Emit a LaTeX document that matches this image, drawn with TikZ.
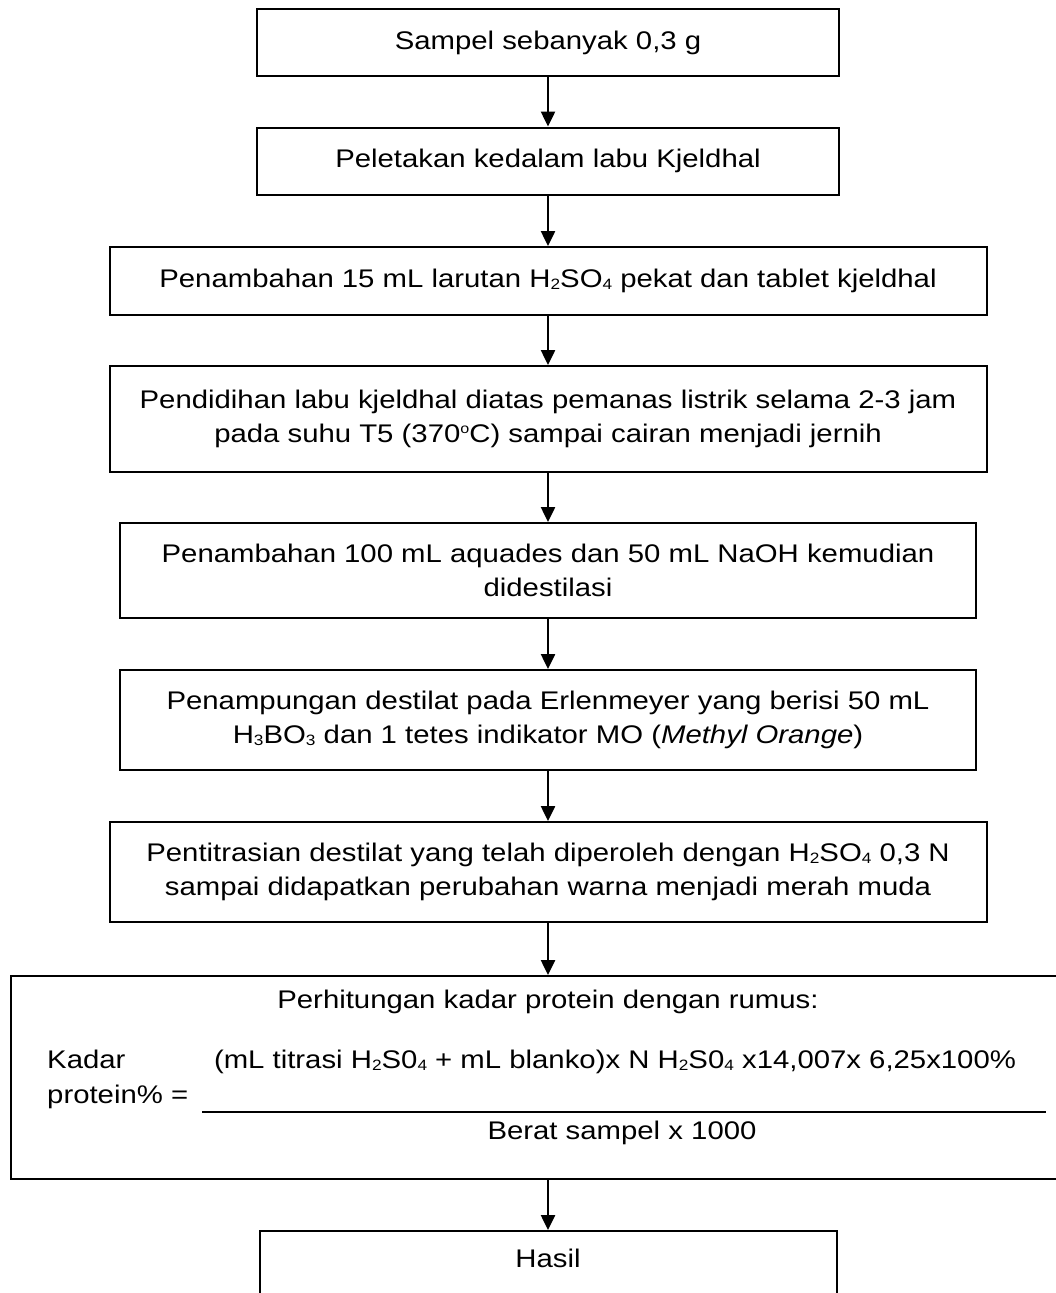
\documentclass[tikz,border=0pt]{standalone}
\usepackage{fontspec}
\setmainfont{Liberation Sans}[FakeStretch=1.15]
\usetikzlibrary{arrows.meta}
\newcommand\sbs[1]{\raisebox{-2pt}{\fontsize{15}{15}\selectfont #1}}
\newcommand\sps[1]{\raisebox{9pt}{\fontsize{14}{14}\selectfont #1}}
\newcommand\fs{\fontsize{25.5}{34}\selectfont}
\begin{document}
\begin{tikzpicture}[x=1pt,y=-1pt,
  box/.style={draw, line width=2pt, inner sep=0pt, align=center, font=\fs},
  txt/.style={inner sep=0pt, font=\fs},
  arr/.style={-{Triangle[width=14pt,length=15pt]}, line width=2.5pt}]
\useasboundingbox (0,0) rectangle (1056,1293);
\clip (0,0) rectangle (1056,1293);
\fill[white] (0,0) rectangle (1056,1293);
\node[box, minimum width=582pt, minimum height=67pt] (b1) at (548,42.5) {Sampel sebanyak 0,3 g};
\node[box, minimum width=582pt, minimum height=67pt] (b2) at (548,161) {Peletakan kedalam labu Kjeldhal};
\node[box, minimum width=877pt, minimum height=68pt] (b3) at (548,281) {Penambahan 15 mL larutan H\sbs{2}SO\sbs{4} pekat dan tablet kjeldhal};
\node[box, minimum width=877pt, minimum height=106pt] (b4) at (548,419) {Pendidihan labu kjeldhal diatas pemanas listrik selama 2-3 jam\\pada suhu T5 (370\sps{o}C) sampai cairan menjadi jernih};
\node[box, minimum width=856pt, minimum height=95pt] (b5) at (548,570.5) {Penambahan 100 mL aquades dan 50 mL NaOH kemudian\\didestilasi};
\node[box, minimum width=856pt, minimum height=100pt] (b6) at (548,720) {Penampungan destilat pada Erlenmeyer yang berisi 50 mL\\H\sbs{3}BO\sbs{3} dan 1 tetes indikator MO (\textit{Methyl Orange})};
\node[box, minimum width=877pt, minimum height=100pt] (b7) at (548,872) {Pentitrasian destilat yang telah diperoleh dengan H\sbs{2}SO\sbs{4} 0,3 N\\sampai didapatkan perubahan warna menjadi merah muda};
\node[box, minimum width=1066pt, minimum height=203pt, anchor=north west] (b8) at (10,975) {};
\node[txt, anchor=base] (t8) at (548,1008) {Perhitungan kadar protein dengan rumus:};
\node[txt, anchor=base west] (kadar) at (47,1068) {Kadar};
\node[txt, anchor=base west] (prot) at (47,1103) {protein\% =};
\node[txt, anchor=base] (num) at (615,1068) {(mL titrasi H\sbs{2}S0\sbs{4} + mL blanko)x N H\sbs{2}S0\sbs{4} x14,007x 6,25x100\%};
\coordinate (fl) at (202,1112);
\coordinate (fr) at (1046,1112);
\draw[line width=2pt] (fl) -- (fr);
\node[txt, anchor=base] (den) at (622,1139) {Berat sampel x 1000};
\node[box, minimum width=577pt, anchor=north, text height=36pt, text depth=64pt] (hasil) at (548,1230) {Hasil};
\draw[arr] (b1.south) -- (b2.north);
\draw[arr] (b2.south) -- (b3.north);
\draw[arr] (b3.south) -- (b4.north);
\draw[arr] (b4.south) -- (b5.north);
\draw[arr] (b5.south) -- (b6.north);
\draw[arr] (b6.south) -- (b7.north);
\draw[arr] (b7.south) -- (b7.south |- b8.north);
\draw[arr] (b8.south -| hasil.north) -- (hasil.north);
\end{tikzpicture}
\end{document}
